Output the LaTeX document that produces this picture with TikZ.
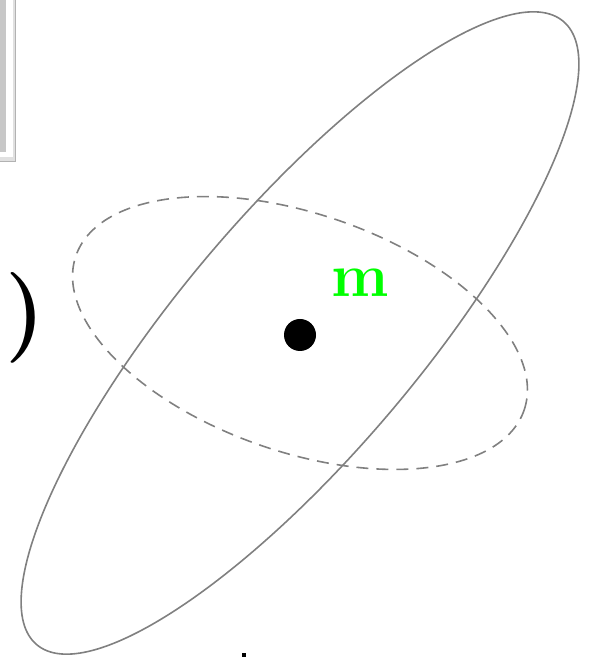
\documentclass[tikz,border=0pt]{standalone}
\begin{document}
\begin{tikzpicture}[x=0.75pt,y=0.75pt,
  ellsolid/.style={draw=black!50, line width=1.2pt},
  elldash/.style={draw=black!50, line width=1.2pt, dash pattern=on 9pt off 6pt},
  lbl/.style={inner sep=0pt, outer sep=0pt}]
\useasboundingbox (0,0) rectangle (594,657);
% top-left framed box fragment
\fill[black!12] (0,657) rectangle (16,495);
\fill[white] (0,657) rectangle (12.5,499.5);
\fill[black!22] (0,657) rectangle (6,505);
\draw[black!30, line width=0.9pt] (15.5,657) -- (15.5,495.5) -- (0,495.5);
% ellipses
\coordinate (c) at (300,324);
\draw[ellsolid] (c) ellipse[x radius=408, y radius=120, rotate=49.8];
\draw[elldash] (c) ellipse[x radius=237, y radius=119, rotate=-19];
% centre dot
\fill[black] (300,322) circle (16);
% labels
\node[lbl, anchor=base west, text=green, font=\fontsize{46}{50}\selectfont\bfseries] (m) at (331,360) {m};
\node[lbl, anchor=base west, font=\fontsize{68}{72}\selectfont\bfseries] (par) at (5,316) {)};
% small fragment at bottom
\fill[black] (242,0) rectangle (246,4);
\end{tikzpicture}
\end{document}
